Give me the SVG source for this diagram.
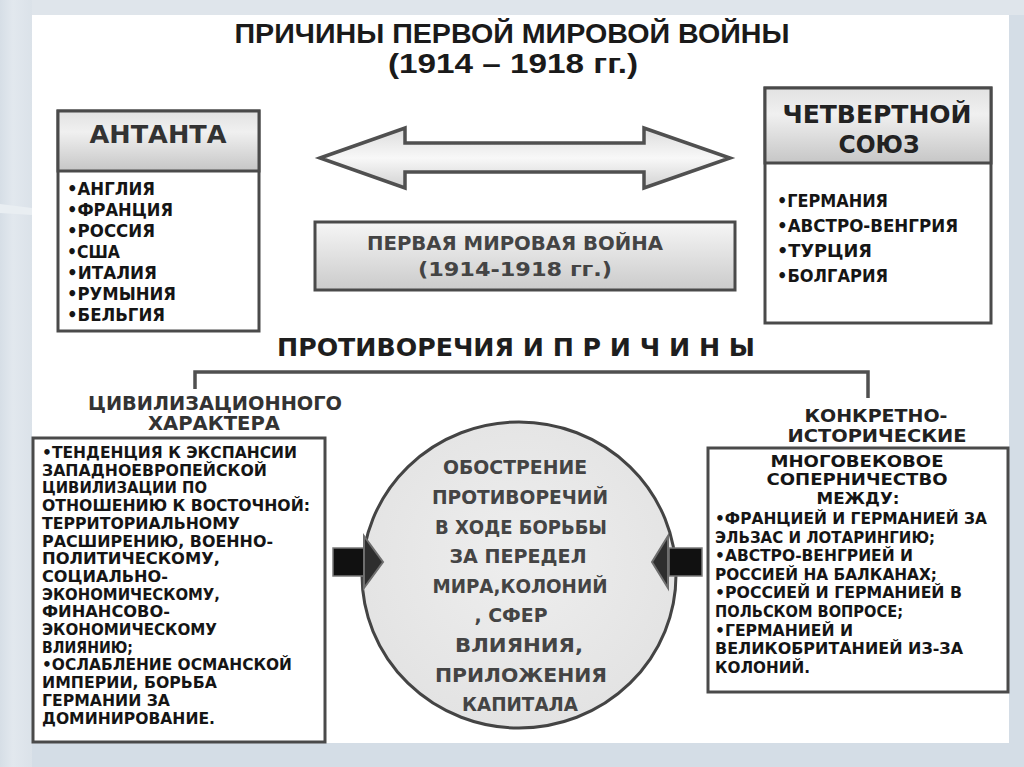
<svg xmlns="http://www.w3.org/2000/svg" width="1024" height="767" viewBox="0 0 1024 767">
<defs>
<linearGradient id="bgLeft" x1="0" y1="0" x2="1" y2="0">
<stop offset="0" stop-color="#d6dee6"/><stop offset="0.4" stop-color="#e2e8ee"/><stop offset="1" stop-color="#dbe2e9"/>
</linearGradient>
<linearGradient id="hdr" x1="0" y1="0" x2="0" y2="1">
<stop offset="0" stop-color="#e2e2e2"/><stop offset="0.35" stop-color="#f0f0f0"/><stop offset="1" stop-color="#c6c6c6"/>
</linearGradient>
<linearGradient id="warBox" x1="0" y1="0" x2="0" y2="1">
<stop offset="0" stop-color="#f6f6f6"/><stop offset="1" stop-color="#cbcbcb"/>
</linearGradient>
<linearGradient id="dbl" x1="0" y1="0" x2="0" y2="1">
<stop offset="0" stop-color="#dcdcdc"/><stop offset="0.5" stop-color="#f8f8f8"/><stop offset="1" stop-color="#d2d2d2"/>
</linearGradient>
<radialGradient id="circ" cx="0.5" cy="0.45" r="0.6">
<stop offset="0" stop-color="#eeeeee"/><stop offset="1" stop-color="#e2e2e2"/>
</radialGradient>
</defs>
<style>
.t{font-family:"DejaVu Sans","Liberation Sans",sans-serif;font-weight:bold}
.ttl{font-family:"Liberation Sans Narrow","Liberation Sans",sans-serif;font-weight:bold;fill:#1a1a1a}
.box{fill:#ffffff;stroke:#4a4a4a;stroke-width:3}
.lst{font-size:17px;fill:#151515}
.sm{font-size:15px;fill:#151515}
.mid{text-anchor:middle}
.edge{fill:none;stroke:#505050;stroke-width:3.5}
</style>
<rect x="0" y="0" width="1024" height="767" fill="#d4dde6"/>
<rect x="0" y="0" width="1024" height="15" fill="#dfe5eb"/>
<rect x="0" y="0" width="32" height="767" fill="url(#bgLeft)"/>
<path d="M0,204 L32,208 L32,215 L0,213 Z" fill="#e9eef2"/>
<rect x="32" y="15" width="977" height="728" fill="#ffffff"/>

<g id="title">
<text class="ttl mid" x="512" y="43" font-size="27" textLength="555" lengthAdjust="spacingAndGlyphs">ПРИЧИНЫ ПЕРВОЙ МИРОВОЙ ВОЙНЫ</text>
<text class="ttl mid" x="513" y="73" font-size="27" textLength="250" lengthAdjust="spacingAndGlyphs">(1914 – 1918 гг.)</text>
</g>

<g id="entente">
<rect class="box" x="58" y="111" width="201" height="220"/>
<rect x="58" y="111" width="201" height="60" fill="url(#hdr)" stroke="#4a4a4a" stroke-width="3"/>
<text class="t mid" x="158" y="143" font-size="25" fill="#333" textLength="137" lengthAdjust="spacingAndGlyphs">АНТАНТА</text>
<text class="t lst" x="67" y="195" textLength="88" lengthAdjust="spacingAndGlyphs">•АНГЛИЯ</text>
<text class="t lst" x="67" y="216" textLength="106" lengthAdjust="spacingAndGlyphs">•ФРАНЦИЯ</text>
<text class="t lst" x="67" y="237" textLength="88" lengthAdjust="spacingAndGlyphs">•РОССИЯ</text>
<text class="t lst" x="67" y="258" textLength="53" lengthAdjust="spacingAndGlyphs">•США</text>
<text class="t lst" x="67" y="279" textLength="90" lengthAdjust="spacingAndGlyphs">•ИТАЛИЯ</text>
<text class="t lst" x="67" y="300" textLength="109" lengthAdjust="spacingAndGlyphs">•РУМЫНИЯ</text>
<text class="t lst" x="67" y="321" textLength="98" lengthAdjust="spacingAndGlyphs">•БЕЛЬГИЯ</text>
</g>

<g id="quadruple">
<rect class="box" x="765" y="88" width="226" height="235"/>
<rect x="765" y="88" width="226" height="75" fill="url(#hdr)" stroke="#4a4a4a" stroke-width="3"/>
<text class="t mid" x="877" y="123" font-size="24" fill="#222" textLength="189" lengthAdjust="spacingAndGlyphs">ЧЕТВЕРТНОЙ</text>
<text class="t mid" x="879" y="153" font-size="24" fill="#222" textLength="81" lengthAdjust="spacingAndGlyphs">СОЮЗ</text>
<text class="t lst" x="777" y="207" textLength="111" lengthAdjust="spacingAndGlyphs">•ГЕРМАНИЯ</text>
<text class="t lst" x="777" y="232" textLength="181" lengthAdjust="spacingAndGlyphs">•АВСТРО-ВЕНГРИЯ</text>
<text class="t lst" x="777" y="257" textLength="95" lengthAdjust="spacingAndGlyphs">•ТУРЦИЯ</text>
<text class="t lst" x="777" y="282" textLength="111" lengthAdjust="spacingAndGlyphs">•БОЛГАРИЯ</text>
</g>

<g id="war">
<rect x="315" y="222" width="420" height="68" fill="url(#warBox)" stroke="#4a4a4a" stroke-width="3"/>
<text class="t mid" x="515" y="250" font-size="20" fill="#444" textLength="296" lengthAdjust="spacingAndGlyphs">ПЕРВАЯ МИРОВАЯ ВОЙНА</text>
<text class="t mid" x="515" y="276" font-size="20" fill="#444" textLength="194" lengthAdjust="spacingAndGlyphs">(1914-1918 гг.)</text>
</g>

<g id="contradictions">
<text class="t" x="277" y="356" font-size="24" fill="#1e1e1e" textLength="478" lengthAdjust="spacingAndGlyphs">ПРОТИВОРЕЧИЯ И П Р И Ч И Н Ы</text>
</g>

<g id="civ-label">
<text class="t mid" x="215" y="410" font-size="19" fill="#333" textLength="254" lengthAdjust="spacingAndGlyphs">ЦИВИЛИЗАЦИОННОГО</text>
<text class="t mid" x="214" y="430" font-size="19" fill="#333" textLength="132" lengthAdjust="spacingAndGlyphs">ХАРАКТЕРА</text>
</g>

<g id="hist-label">
<text class="t mid" x="876" y="422" font-size="18" fill="#222" textLength="143" lengthAdjust="spacingAndGlyphs">КОНКРЕТНО-</text>
<text class="t mid" x="877" y="442" font-size="18" fill="#222" textLength="179" lengthAdjust="spacingAndGlyphs">ИСТОРИЧЕСКИЕ</text>
</g>

<g id="civ-box">
<rect class="box" x="33" y="438" width="292" height="304"/>
<text class="t sm" x="42" y="458" textLength="255" lengthAdjust="spacingAndGlyphs">•ТЕНДЕНЦИЯ К ЭКСПАНСИИ</text>
<text class="t sm" x="42" y="475.7" textLength="225" lengthAdjust="spacingAndGlyphs">ЗАПАДНОЕВРОПЕЙСКОЙ</text>
<text class="t sm" x="42" y="493.4" textLength="165" lengthAdjust="spacingAndGlyphs">ЦИВИЛИЗАЦИИ ПО</text>
<text class="t sm" x="42" y="511.1" textLength="268" lengthAdjust="spacingAndGlyphs">ОТНОШЕНИЮ К ВОСТОЧНОЙ:</text>
<text class="t sm" x="42" y="528.8" textLength="198" lengthAdjust="spacingAndGlyphs">ТЕРРИТОРИАЛЬНОМУ</text>
<text class="t sm" x="42" y="546.5" textLength="231" lengthAdjust="spacingAndGlyphs">РАСШИРЕНИЮ, ВОЕННО-</text>
<text class="t sm" x="42" y="564.2" textLength="178" lengthAdjust="spacingAndGlyphs">ПОЛИТИЧЕСКОМУ,</text>
<text class="t sm" x="42" y="581.9" textLength="126" lengthAdjust="spacingAndGlyphs">СОЦИАЛЬНО-</text>
<text class="t sm" x="42" y="599.6" textLength="178" lengthAdjust="spacingAndGlyphs">ЭКОНОМИЧЕСКОМУ,</text>
<text class="t sm" x="42" y="617.3" textLength="128" lengthAdjust="spacingAndGlyphs">ФИНАНСОВО-</text>
<text class="t sm" x="42" y="635" textLength="175" lengthAdjust="spacingAndGlyphs">ЭКОНОМИЧЕСКОМУ</text>
<text class="t sm" x="42" y="652.7" textLength="91" lengthAdjust="spacingAndGlyphs">ВЛИЯНИЮ;</text>
<text class="t sm" x="42" y="670.4" textLength="250" lengthAdjust="spacingAndGlyphs">•ОСЛАБЛЕНИЕ ОСМАНСКОЙ</text>
<text class="t sm" x="42" y="688.1" textLength="175" lengthAdjust="spacingAndGlyphs">ИМПЕРИИ, БОРЬБА</text>
<text class="t sm" x="42" y="705.8" textLength="128" lengthAdjust="spacingAndGlyphs">ГЕРМАНИИ ЗА</text>
<text class="t sm" x="42" y="723.5" textLength="173" lengthAdjust="spacingAndGlyphs">ДОМИНИРОВАНИЕ.</text>
</g>

<g id="circle">
<ellipse cx="519" cy="575" rx="157" ry="153" fill="url(#circ)" stroke="#444" stroke-width="3"/>
<g class="t mid" font-size="19" fill="#444">
<text x="515" y="474" textLength="144" lengthAdjust="spacingAndGlyphs">ОБОСТРЕНИЕ</text>
<text x="520" y="504" textLength="176" lengthAdjust="spacingAndGlyphs">ПРОТИВОРЕЧИЙ</text>
<text x="521" y="534" textLength="172" lengthAdjust="spacingAndGlyphs">В ХОДЕ БОРЬБЫ</text>
<text x="518" y="563" textLength="137" lengthAdjust="spacingAndGlyphs">ЗА ПЕРЕДЕЛ</text>
<text x="520" y="593" textLength="175" lengthAdjust="spacingAndGlyphs">МИРА,КОЛОНИЙ</text>
<text x="511" y="622" textLength="73" lengthAdjust="spacingAndGlyphs">, СФЕР</text>
<text x="519" y="652" textLength="128" lengthAdjust="spacingAndGlyphs">ВЛИЯНИЯ,</text>
<text x="521" y="682" textLength="172" lengthAdjust="spacingAndGlyphs">ПРИЛОЖЕНИЯ</text>
<text x="520" y="711" textLength="116" lengthAdjust="spacingAndGlyphs">КАПИТАЛА</text>
</g>
</g>

<g id="hist-box">
<rect class="box" x="708" y="448" width="300" height="244"/>
<text class="t sm mid" x="857" y="467" textLength="173" lengthAdjust="spacingAndGlyphs" style="font-size:16px">МНОГОВЕКОВОЕ</text>
<text class="t sm mid" x="857" y="485" textLength="181" lengthAdjust="spacingAndGlyphs" style="font-size:16px">СОПЕРНИЧЕСТВО</text>
<text class="t sm mid" x="858" y="504" textLength="83" lengthAdjust="spacingAndGlyphs" style="font-size:16px">МЕЖДУ:</text>
<text class="t sm" x="715" y="524" textLength="272" lengthAdjust="spacingAndGlyphs">•ФРАНЦИЕЙ И ГЕРМАНИЕЙ ЗА</text>
<text class="t sm" x="715" y="542.6" textLength="220" lengthAdjust="spacingAndGlyphs">ЭЛЬЗАС И ЛОТАРИНГИЮ;</text>
<text class="t sm" x="715" y="561.2" textLength="198" lengthAdjust="spacingAndGlyphs">•АВСТРО-ВЕНГРИЕЙ И</text>
<text class="t sm" x="715" y="579.8" textLength="222" lengthAdjust="spacingAndGlyphs">РОССИЕЙ НА БАЛКАНАХ;</text>
<text class="t sm" x="715" y="598.4" textLength="247" lengthAdjust="spacingAndGlyphs">•РОССИЕЙ И ГЕРМАНИЕЙ В</text>
<text class="t sm" x="715" y="617" textLength="188" lengthAdjust="spacingAndGlyphs">ПОЛЬСКОМ ВОПРОСЕ;</text>
<text class="t sm" x="715" y="635.6" textLength="138" lengthAdjust="spacingAndGlyphs">•ГЕРМАНИЕЙ И</text>
<text class="t sm" x="715" y="654.2" textLength="248" lengthAdjust="spacingAndGlyphs">ВЕЛИКОБРИТАНИЕЙ ИЗ-ЗА</text>
<text class="t sm" x="715" y="672.8" textLength="95" lengthAdjust="spacingAndGlyphs">КОЛОНИЙ.</text>
</g>

<g id="connectors">
<polygon points="320,158 405,128 405,143 644,143 644,128 730,158 644,188 644,172 405,172 405,188" fill="url(#dbl)" stroke="#505050" stroke-width="3.5" stroke-linejoin="miter"/>
<path class="edge" d="M195,389 V372 H868 V398"/>
<rect x="333" y="548" width="33" height="28" fill="#111111" stroke="#7a7a7a" stroke-width="1.5"/>
<polygon points="364,536 383,562 364,588" fill="#2e2e2e" stroke="#6e6e6e" stroke-width="2"/>
<rect x="669" y="548" width="33" height="28" fill="#111111" stroke="#7a7a7a" stroke-width="1.5"/>
<polygon points="668,536 652,562 668,588" fill="#2e2e2e" stroke="#6e6e6e" stroke-width="2"/>
</g>
</svg>
